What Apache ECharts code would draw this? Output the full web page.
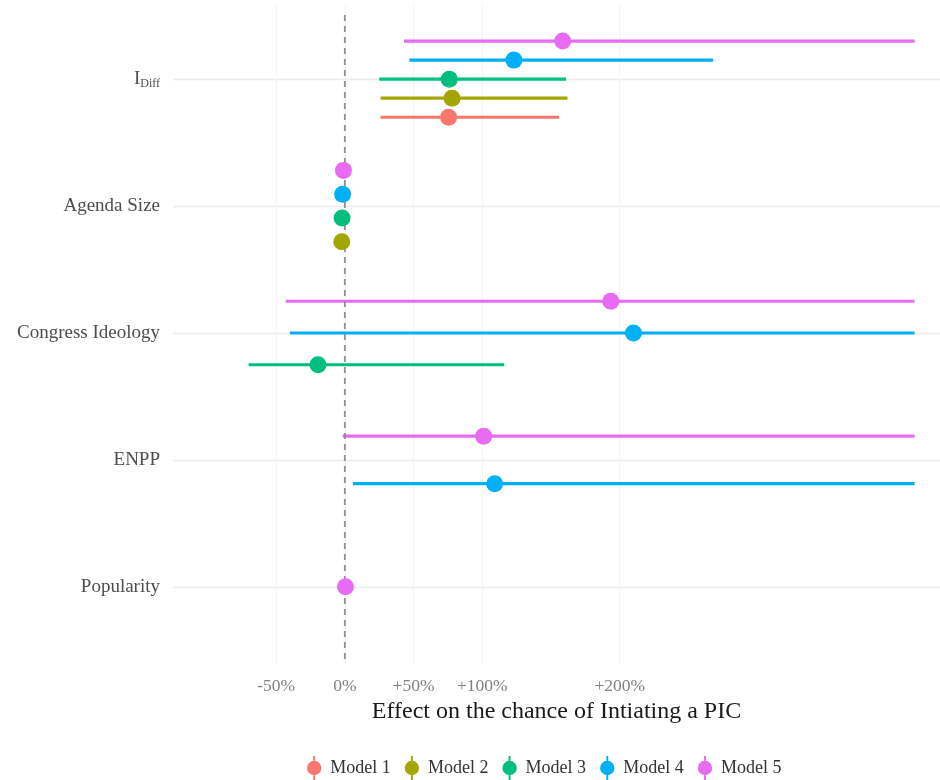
<!DOCTYPE html>
<html>
<head>
<meta charset="utf-8">
<script src="https://cdn.jsdelivr.net/npm/echarts@6/dist/echarts.min.js"></script>
<style>html,body{margin:0;padding:0;background:#fff}#c{width:940px;height:780px}</style>
</head>
<body>
<div id="c"></div>
<script>
const variables = ['IDiff', 'Agenda Size', 'Congress Ideology', 'ENPP', 'Popularity'];
const models = ['Model 1', 'Model 2', 'Model 3', 'Model 4', 'Model 5'];
const colors = ['#F8766D', '#A3A500', '#00BF7D', '#00B0F6', '#E76BF3'];
const xTicks = [-50, 0, 50, 100, 200];

// estimates, lower and upper bounds (% effect), one entry per variable
const model1Est  = [75.5, null, null, null, null];
const model1Low  = [26, null, null, null, null];
const model1High = [156, null, null, null, null];

const model2Est  = [78, -2.2, null, null, null];
const model2Low  = [26, -3, null, null, null];
const model2High = [162, -1.4, null, null, null];

const model3Est  = [76, -2, -19.5, null, null];
const model3Low  = [25, -2.8, -70, null, null];
const model3High = [161, -1.2, 116, null, null];

const model4Est  = [123, -1.6, 210, 109, null];
const model4Low  = [47, -2.4, -40, 6, null];
const model4High = [268, -0.8, 414.5, 414.5, null];

const model5Est  = [158.5, -1, 193.5, 101, 0.5];
const model5Low  = [43, -1.8, -43, -1.5, -0.3];
const model5High = [414.5, -0.2, 414.5, 414.5, 1.3];

const ests  = [model1Est, model2Est, model3Est, model4Est, model5Est];
const lows  = [model1Low, model2Low, model3Low, model4Low, model5Low];
const highs = [model1High, model2High, model3High, model4High, model5High];

const FONT = 'Liberation Serif';
const dodgeWidth = 0.75;
const yMin = -0.6, yMax = 4.6;

// dodge positions
function yPos(mi, vi) {
  const present = [];
  for (let m = 0; m < models.length; m++) if (ests[m][vi] !== null) present.push(m);
  const n = present.length;
  const k = present.indexOf(mi);
  return vi + dodgeWidth / 2 - (k + 0.5) * dodgeWidth / n;
}

const legendIcon = 'path://M5.2,0 L6.8,0 L6.8,4 L5.2,4 Z M5.2,16 L6.8,16 L6.8,20 L5.2,20 Z M6,4 A6,6 0 1 1 5.999,4 Z';

const series = [];
models.forEach((m, mi) => {
  const barData = [], ptData = [];
  variables.forEach((v, vi) => {
    if (ests[mi][vi] === null) return;
    const y = yPos(mi, vi);
    barData.push([y, lows[mi][vi], highs[mi][vi]]);
    ptData.push([ests[mi][vi], y]);
  });
  series.push({
    name: m, type: 'custom', z: 2, clip: true,
    itemStyle: { color: colors[mi] },
    encode: { x: [1, 2], y: 0 },
    data: barData,
    renderItem: function (params, api) {
      const y = api.value(0);
      const p1 = api.coord([api.value(1), y]);
      const p2 = api.coord([api.value(2), y]);
      return { type: 'line', shape: { x1: p1[0], y1: p1[1], x2: p2[0], y2: p2[1] },
               style: { stroke: colors[mi], lineWidth: 3.2 } };
    }
  });
  series.push({
    name: m, type: 'scatter', z: 5, symbol: 'circle', symbolSize: 17,
    itemStyle: { color: colors[mi], opacity: 1 },
    data: ptData
  });
});
// dashed reference line at 0%
series.push({
  name: 'zero', type: 'custom', z: 3, silent: true,
  encode: { x: 0 },
  data: [[0]],
  renderItem: function (params, api) {
    const a = api.coord([api.value(0), yMin]);
    const b = api.coord([api.value(0), yMax]);
    return { type: 'line', shape: { x1: a[0], y1: a[1] + 12, x2: b[0], y2: b[1] },
             style: { stroke: '#8f8f8f', lineWidth: 1.8, lineDash: [6, 5] } };
  }
});

const chart = echarts.init(document.getElementById('c'), null, { renderer: 'canvas' });
chart.setOption({
  animation: false,
  backgroundColor: '#fff',
  grid: { left: 173, right: 0, top: 3, bottom: 117, containLabel: false },
  xAxis: {
    type: 'value', min: -125, max: 433,
    name: 'Effect on the chance of Intiating a PIC',
    nameLocation: 'middle', nameGap: 31,
    nameTextStyle: { fontFamily: FONT, fontSize: 24, color: '#1a1a1a' },
    axisLine: { show: false },
    axisTick: { show: false, customValues: xTicks },
    axisLabel: {
      customValues: xTicks, margin: 14,
      fontFamily: FONT, fontSize: 17.5, color: '#808080',
      formatter: v => v < 0 ? v + '%' : (v === 0 ? '0%' : '+' + v + '%')
    },
    splitLine: { show: true, lineStyle: { color: '#f4f4f4', width: 1 } }
  },
  yAxis: {
    type: 'value', inverse: true, min: yMin, max: yMax,
    axisLine: { show: false },
    axisTick: { show: false, customValues: [0, 1, 2, 3, 4] },
    axisLabel: {
      customValues: [0, 1, 2, 3, 4], margin: 13,
      fontFamily: FONT, fontSize: 19, color: '#4d4d4d',
      formatter: v => {
        const name = variables[Math.round(v)];
        return name === 'IDiff' ? '{i|I}{s|Diff}' : name;
      },
      rich: {
        i: { fontFamily: FONT, fontSize: 19, color: '#4d4d4d', lineHeight: 22 },
        s: { fontFamily: FONT, fontSize: 12, color: '#4d4d4d', lineHeight: 13, verticalAlign: 'bottom', padding: [7, 0, 0, 0] }
      }
    },
    splitLine: { show: true, lineStyle: { color: '#ebebeb', width: 1.3 } }
  },
  legend: {
    left: 302, top: 751, padding: [5, 5, 0, 5], itemWidth: 16, itemHeight: 24, itemGap: 14,
    textStyle: { fontFamily: FONT, fontSize: 18, color: '#333', padding: [0, 0, 0, 3] },
    data: models.map(m => ({ name: m, icon: legendIcon }))
  },
  series: series
});
</script>
</body>
</html>
